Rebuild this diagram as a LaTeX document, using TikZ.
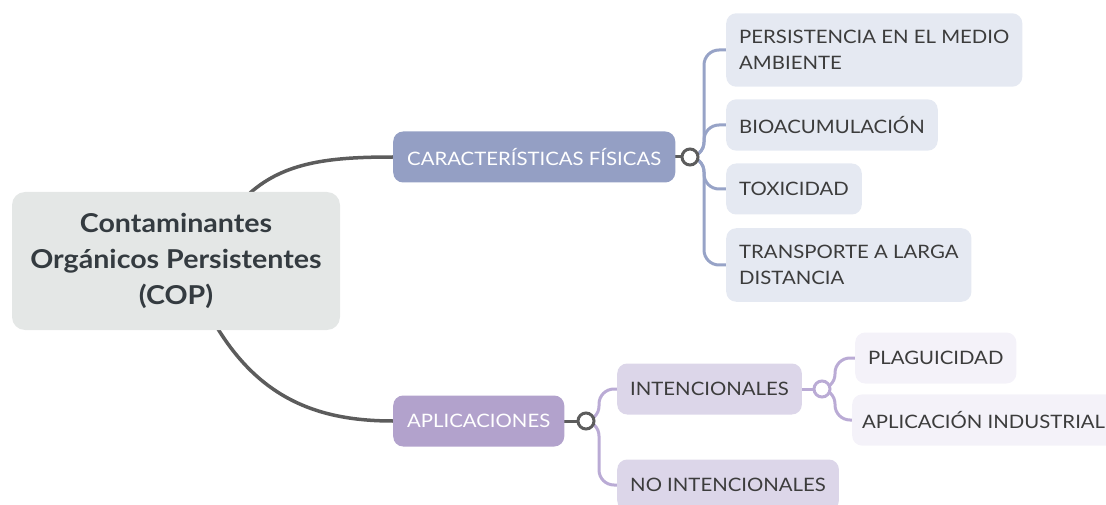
\documentclass[tikz,border=0pt]{standalone}
\usepackage{fontspec}
\setmainfont{Lato}[FakeStretch=1.1]
\usetikzlibrary{backgrounds}

\definecolor{rootfill}{HTML}{E4E7E6}
\definecolor{roottext}{HTML}{343B40}
\definecolor{trunkgray}{HTML}{5C5C5C}
\definecolor{bluetopic}{HTML}{949FC4}
\definecolor{blueline}{HTML}{97A3C7}
\definecolor{blueleaf}{HTML}{E5E9F2}
\definecolor{purpletopic}{HTML}{B2A2CC}
\definecolor{purpleline}{HTML}{BAABD5}
\definecolor{purplesub}{HTML}{DCD6E9}
\definecolor{purpleleaf}{HTML}{F4F2F9}
\definecolor{leaftext}{HTML}{3C3C3C}

\tikzset{
  rootbox/.style={fill=rootfill, rounded corners=13pt, text=roottext, align=center,
    minimum width=328, minimum height=138, font=\fontsize{26}{36}\selectfont\bfseries},
  topicbox/.style={rounded corners=10pt, text=white, minimum height=51, inner xsep=14,
    anchor=west, font=\fontsize{18.5}{26}\selectfont},
  leafbox/.style={rounded corners=10pt, text=leaftext, minimum height=51, inner xsep=13,
    inner ysep=17, anchor=west, align=left, font=\fontsize{18.5}{26}\selectfont},
  knob/.style={circle, draw=#1, line width=3pt, fill=white, minimum size=16, inner sep=0},
  branch/.style={line width=3pt, rounded corners=15pt},
}

\begin{document}
\begin{tikzpicture}[x=1pt,y=-1pt]
  \useasboundingbox (0,0) rectangle (1106,505);

  % central topic
  \node[rootbox] (cop) at (176,261) {Contaminantes\\Orgánicos Persistentes\\(COP)};

  % first branch
  \node[topicbox, fill=bluetopic] (fisicas) at (393,157) {CARACTERÍSTICAS FÍSICAS};
  \node[knob=trunkgray] (kfis) at (690,157) {};
  \node[leafbox, fill=blueleaf] (persist) at (726,50) {PERSISTENCIA EN EL MEDIO\\AMBIENTE};
  \node[leafbox, fill=blueleaf] (bioac) at (726,125) {BIOACUMULACIÓN};
  \node[leafbox, fill=blueleaf] (toxic) at (726,189) {TOXICIDAD};
  \node[leafbox, fill=blueleaf] (transp) at (726,265) {TRANSPORTE A LARGA\\DISTANCIA};

  % second branch
  \node[topicbox, fill=purpletopic] (aplic) at (393,421) {APLICACIONES};
  \node[knob=trunkgray] (kapl) at (586,421) {};
  \node[leafbox, fill=purplesub] (intenc) at (617,389) {INTENCIONALES};
  \node[leafbox, fill=purplesub] (nointenc) at (617,485) {NO INTENCIONALES};
  \node[knob=purpleline] (kint) at (822,389) {};
  \node[leafbox, fill=purpleleaf] (plagui) at (855,358) {PLAGUICIDAD};
  \node[leafbox, fill=purpleleaf, inner xsep=10] (indust) at (852,420) {APLICACIÓN INDUSTRIAL};

  \begin{pgfonlayer}{background}
    \draw[trunkgray, line width=3.5pt] (250,193) .. controls (285,162) and (330,157) .. (fisicas.west);
    \draw[trunkgray, line width=3.5pt] (218,329) .. controls (262,400) and (320,421) .. (aplic.west);
    \draw[trunkgray, line width=3pt] (fisicas.east) -- (kfis.center);
    \draw[trunkgray, line width=3pt] (aplic.east) -- (kapl.center);
    \draw[purpleline, line width=3pt] (intenc.east) -- (kint.center);
    % leaves of the first branch
    \foreach \leaf in {persist,bioac,toxic,transp}
      \draw[blueline, branch] (kfis.center) -- (704,157) -- (704,0 |- \leaf.west) -- (\leaf.west);
    \foreach \leaf in {intenc,nointenc}
      \draw[purpleline, branch] (kapl.center) -- (599,421) -- (599,0 |- \leaf.west) -- (\leaf.west);
    \foreach \leaf in {plagui,indust}
      \draw[purpleline, branch] (kint.center) -- (835,389) -- (835,0 |- \leaf.west) -- (\leaf.west);
  \end{pgfonlayer}
\end{tikzpicture}
\end{document}
